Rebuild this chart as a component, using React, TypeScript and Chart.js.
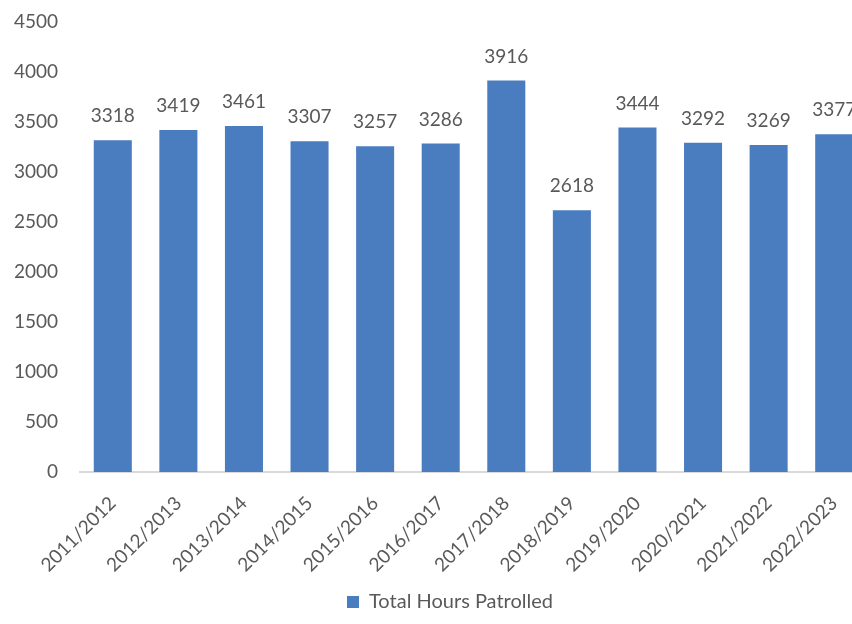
import React, { useEffect, useRef } from "react";
import { Chart, registerables } from "chart.js";

Chart.register(...registerables);

const categories = [
  "2011/2012", "2012/2013", "2013/2014", "2014/2015", "2015/2016", "2016/2017",
  "2017/2018", "2018/2019", "2019/2020", "2020/2021", "2021/2022", "2022/2023",
];
const hoursPatrolled = [3318, 3419, 3461, 3307, 3257, 3286, 3916, 2618, 3444, 3292, 3269, 3377];
const seriesLabel = "Total Hours Patrolled";
const yMin = 0;
const yMax = 4500;
const yStep = 500;

const FONT = "Lato, 'Liberation Sans', sans-serif";
const TEXT = "#595959";
const BAR = "#4a7cc0";

const dataLabels = {
  id: "dataLabels",
  afterDatasetsDraw(chart: any) {
    const ctx = chart.ctx;
    const meta = chart.getDatasetMeta(0);
    const data = chart.data.datasets[0].data;
    ctx.save();
    ctx.font = `19px ${FONT}`;
    ctx.fillStyle = TEXT;
    ctx.textAlign = "center";
    ctx.textBaseline = "middle";
    meta.data.forEach((el: any, i: number) => {
      ctx.fillText(String(data[i]), el.x, el.y - 24);
    });
    ctx.restore();
  },
};

export default function App() {
  const ref = useRef<HTMLCanvasElement | null>(null);
  useEffect(() => {
    if (!ref.current) return;
    const chart = new Chart(ref.current, {
      type: "bar",
      data: {
        labels: categories,
        datasets: [
          {
            label: seriesLabel,
            data: hoursPatrolled,
            backgroundColor: BAR,
            borderWidth: 0,
            categoryPercentage: 0.58,
            barPercentage: 1,
          },
        ],
      },
      options: {
        responsive: false,
        animation: false,
        layout: { padding: { top: 22, left: 0, right: 0, bottom: 2 } },
        plugins: {
          legend: {
            position: "bottom",
            labels: {
              color: TEXT,
              font: { family: FONT, size: 20 },
              boxWidth: 12,
              boxHeight: 12,
              padding: 9,
            },
          },
          tooltip: { enabled: false },
        },
        scales: {
          x: {
            grid: { display: false, drawTicks: false },
            border: { display: true, color: "#d9d9d9", width: 2 },
            ticks: {
              color: TEXT,
              font: { family: FONT, size: 19 },
              maxRotation: 45,
              minRotation: 45,
              padding: 20,
              autoSkip: false,
            },
            afterFit(scale: any) {
              scale.height = 111;
            },
          },
          y: {
            min: yMin,
            max: yMax,
            grid: { display: false, drawTicks: false },
            border: { display: false },
            ticks: {
              stepSize: yStep,
              color: TEXT,
              font: { family: FONT, size: 19 },
              padding: 22,
              callback: (v: any) => String(v),
            },
            afterFit(scale: any) {
              scale.width = 80;
              scale.paddingTop = 0;
              scale.paddingBottom = 0;
            },
          },
          yRight: {
            position: "right",
            display: true,
            grid: { display: false, drawTicks: false },
            border: { display: false },
            ticks: { display: false },
            afterFit(scale: any) {
              scale.width = 33;
              scale.paddingTop = 0;
              scale.paddingBottom = 0;
            },
          },
        },
      },
      plugins: [dataLabels],
    });
    return () => chart.destroy();
  }, []);

  return (
    <div
      style={{
        position: "absolute",
        left: 0,
        top: 0,
        width: 852,
        height: 624,
        overflow: "hidden",
        background: "#fff",
      }}
    >
      <canvas ref={ref} width={900} height={624} style={{ display: "block" }} />
    </div>
  );
}
